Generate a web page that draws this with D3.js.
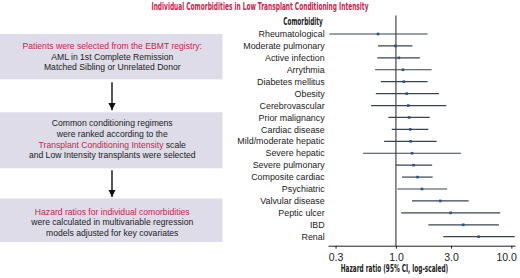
<!DOCTYPE html>
<html>
<head>
<meta charset="utf-8">
<script src="https://cdn.jsdelivr.net/npm/d3@7"></script>
<style>
  body { margin: 0; background: #fff; }
  svg { display: block; }
</style>
</head>
<body>
<div id="chart"></div>
<script>
// comorbidities, top to bottom
const comorbidities = [
    "Rheumatological", "Moderate pulmonary", "Active infection", "Arrythmia",
    "Diabetes mellitus", "Obesity", "Cerebrovascular", "Prior malignancy",
    "Cardiac disease", "Mild/moderate hepatic", "Severe hepatic", "Severe pulmonary",
    "Composite cardiac", "Psychiatric", "Valvular disease", "Peptic ulcer", "IBD", "Renal"
];
// hazard ratio and 95% CI
const hazardRatio = [0.70, 0.99, 1.06, 1.15, 1.17, 1.24, 1.28, 1.30, 1.33, 1.34, 1.38, 1.42, 1.54, 1.68, 2.42, 2.98, 3.83, 5.2];
const ciLow =       [0.265, 0.70, 0.69, 0.66, 0.74, 0.67, 0.61, 0.86, 0.92, 0.79, 0.52, 1.00, 1.13, 1.03, 1.38, 1.11, 1.91, 2.57];
const ciHigh =      [1.88, 1.39, 1.61, 2.04, 1.88, 2.36, 2.73, 1.96, 1.91, 2.25, 3.65, 2.06, 2.08, 2.78, 4.26, 8.0, 7.8, 10.7];
const tickValues = [0.3, 1, 3, 10];

// flow chart boxes on the left
const boxes = [
    { lines: [["Patients were selected from the EBMT registry:", true], ["AML in 1st Complete Remission", false], ["Matched Sibling or Unrelated Donor", false]] },
    { lines: [["Common conditioning regimens", false], ["were ranked according to the", false], [["Transplant Conditioning Intensity", " scale"], "mixed"], ["and Low Intensity transplants were selected", false]] },
    { lines: [["Hazard ratios for individual comorbidities", true], ["were calculated in multivariable regression", false], ["models adjusted for key covariates", false]] }
];

const red = "#c4264a";
const width = 520, height = 278;

const svg = d3.select("#chart")
    .append("svg")
    .attr("width", width)
    .attr("height", height)
    .style("font-family", "'Liberation Sans', Arial, sans-serif");

// title
svg.append("text")
    .attr("x", 260)
    .attr("y", 9.8)
    .attr("text-anchor", "middle")
    .attr("textLength", 217)
    .attr("lengthAdjust", "spacingAndGlyphs")
    .style("font-family", "'Liberation Sans Narrow', 'DejaVu Sans Condensed', sans-serif")
    .style("font-weight", "bold")
    .style("font-size", "10.3px")
    .style("fill", red)
    .text("Individual Comorbidities in Low Transplant Conditioning Intensity");

// ---- left panel ----
const boxX = 0, boxW = 222.5;
const boxTops = [34, 112.3, 198.5];
const boxBottoms = [79.3, 168.3, 242];
const lineGap = 10.6;
const firstLine = [46, 123.3, 211.7];

boxes.forEach((b, i) => {
    svg.append("rect")
        .attr("x", boxX)
        .attr("y", boxTops[i])
        .attr("width", boxW)
        .attr("height", boxBottoms[i] - boxTops[i])
        .style("fill", "#dddce8");

    b.lines.forEach((ln, j) => {
        const t = svg.append("text")
            .attr("x", boxX + boxW / 2 + 1)
            .attr("y", firstLine[i] + j * lineGap)
            .attr("dy", "0.35em")
            .attr("text-anchor", "middle")
            .style("font-size", "8.6px")
            .style("fill", "#222");
        if (ln[1] === "mixed") {
            t.append("tspan").style("fill", red).text(ln[0][0]);
            t.append("tspan").text(ln[0][1]);
        } else {
            t.style("fill", ln[1] ? red : "#222").text(ln[0]);
        }
    });
});

// arrows between boxes
svg.append("defs").append("marker")
    .attr("id", "head")
    .attr("viewBox", "0 0 10 10")
    .attr("refX", 10)
    .attr("refY", 5)
    .attr("markerWidth", 7.5)
    .attr("markerHeight", 7.5)
    .attr("markerUnits", "userSpaceOnUse")
    .attr("orient", "auto")
    .append("path")
    .attr("d", "M0,0 L10,5 L0,10 Z")
    .style("fill", "#111");

[[boxBottoms[0] + 3, boxTops[1] - 2], [boxBottoms[1] + 2, boxTops[2] - 1.5]].forEach(([y0, y1]) => {
    svg.append("line")
        .attr("x1", 112).attr("x2", 112)
        .attr("y1", y0).attr("y2", y1)
        .attr("marker-end", "url(#head)")
        .style("stroke", "#111")
        .style("stroke-width", 1.4);
});

// ---- forest plot ----
const x = d3.scaleLog()
    .domain([0.258, 10.75])
    .range([328, 515]);

const y = d3.scalePoint()
    .domain(comorbidities)
    .range([34, 236.7]);

const axisY = 245.7;

// reference line at HR = 1
svg.append("line")
    .attr("x1", x(1)).attr("x2", x(1))
    .attr("y1", 15.5).attr("y2", axisY)
    .style("stroke", "#222")
    .style("stroke-width", 1);

// axis
const xAxis = svg.append("g")
    .attr("transform", `translate(0,${axisY})`)
    .call(d3.axisBottom(x)
        .tickValues(tickValues)
        .tickFormat(d3.format(".1f"))
        .tickSize(3)
        .tickSizeOuter(0));
xAxis.select(".domain").style("stroke", "#222");
xAxis.selectAll(".tick line").style("stroke", "#222");
xAxis.selectAll(".tick text")
    .attr("y", 7.5)
    .style("font-family", "'Liberation Sans', Arial, sans-serif")
    .style("font-size", "10.5px")
    .style("fill", "#222");
// last label pulled inside the frame
xAxis.selectAll(".tick text")
    .filter(d => d === 10)
    .attr("text-anchor", "end")
    .attr("x", 5);

svg.append("text")
    .attr("x", 394.5)
    .attr("y", 268.7)
    .attr("dy", "0.35em")
    .attr("text-anchor", "middle")
    .attr("textLength", 107.5)
    .attr("lengthAdjust", "spacingAndGlyphs")
    .style("font-family", "'Liberation Sans Narrow', 'DejaVu Sans Condensed', sans-serif")
    .style("font-weight", "bold")
    .style("font-size", "10.5px")
    .style("fill", "#222")
    .text("Hazard ratio (95% CI, log-scaled)");

// header
svg.append("text")
    .attr("x", 303)
    .attr("y", 21.7)
    .attr("dy", "0.35em")
    .attr("text-anchor", "middle")
    .attr("textLength", 39.5)
    .attr("lengthAdjust", "spacingAndGlyphs")
    .style("font-family", "'Liberation Sans Narrow', 'DejaVu Sans Condensed', sans-serif")
    .style("font-weight", "bold")
    .style("font-size", "10px")
    .style("fill", "#222")
    .text("Comorbidity");

const rows = comorbidities.map((name, i) => ({
    name, hr: hazardRatio[i], lo: ciLow[i], hi: ciHigh[i]
}));

// row labels
svg.selectAll(".label")
    .data(rows)
    .enter()
    .append("text")
    .attr("class", "label")
    .attr("x", 324.7)
    .attr("y", d => y(d.name))
    .attr("dy", "0.35em")
    .attr("text-anchor", "end")
    .style("font-size", "8.9px")
    .style("fill", "#222")
    .text(d => d.name);

// confidence intervals
svg.selectAll(".ci")
    .data(rows)
    .enter()
    .append("line")
    .attr("class", "ci")
    .attr("x1", d => x(d.lo))
    .attr("x2", d => x(d.hi))
    .attr("y1", d => y(d.name))
    .attr("y2", d => y(d.name))
    .style("stroke", "#3a4350")
    .style("stroke-width", 1.2);

// point estimates
svg.selectAll(".pt")
    .data(rows)
    .enter()
    .append("rect")
    .attr("class", "pt")
    .attr("x", d => x(d.hr) - 1.3)
    .attr("y", d => y(d.name) - 1.3)
    .attr("width", 2.6)
    .attr("height", 2.6)
    .style("fill", "#2a5190");
</script>
</body>
</html>
